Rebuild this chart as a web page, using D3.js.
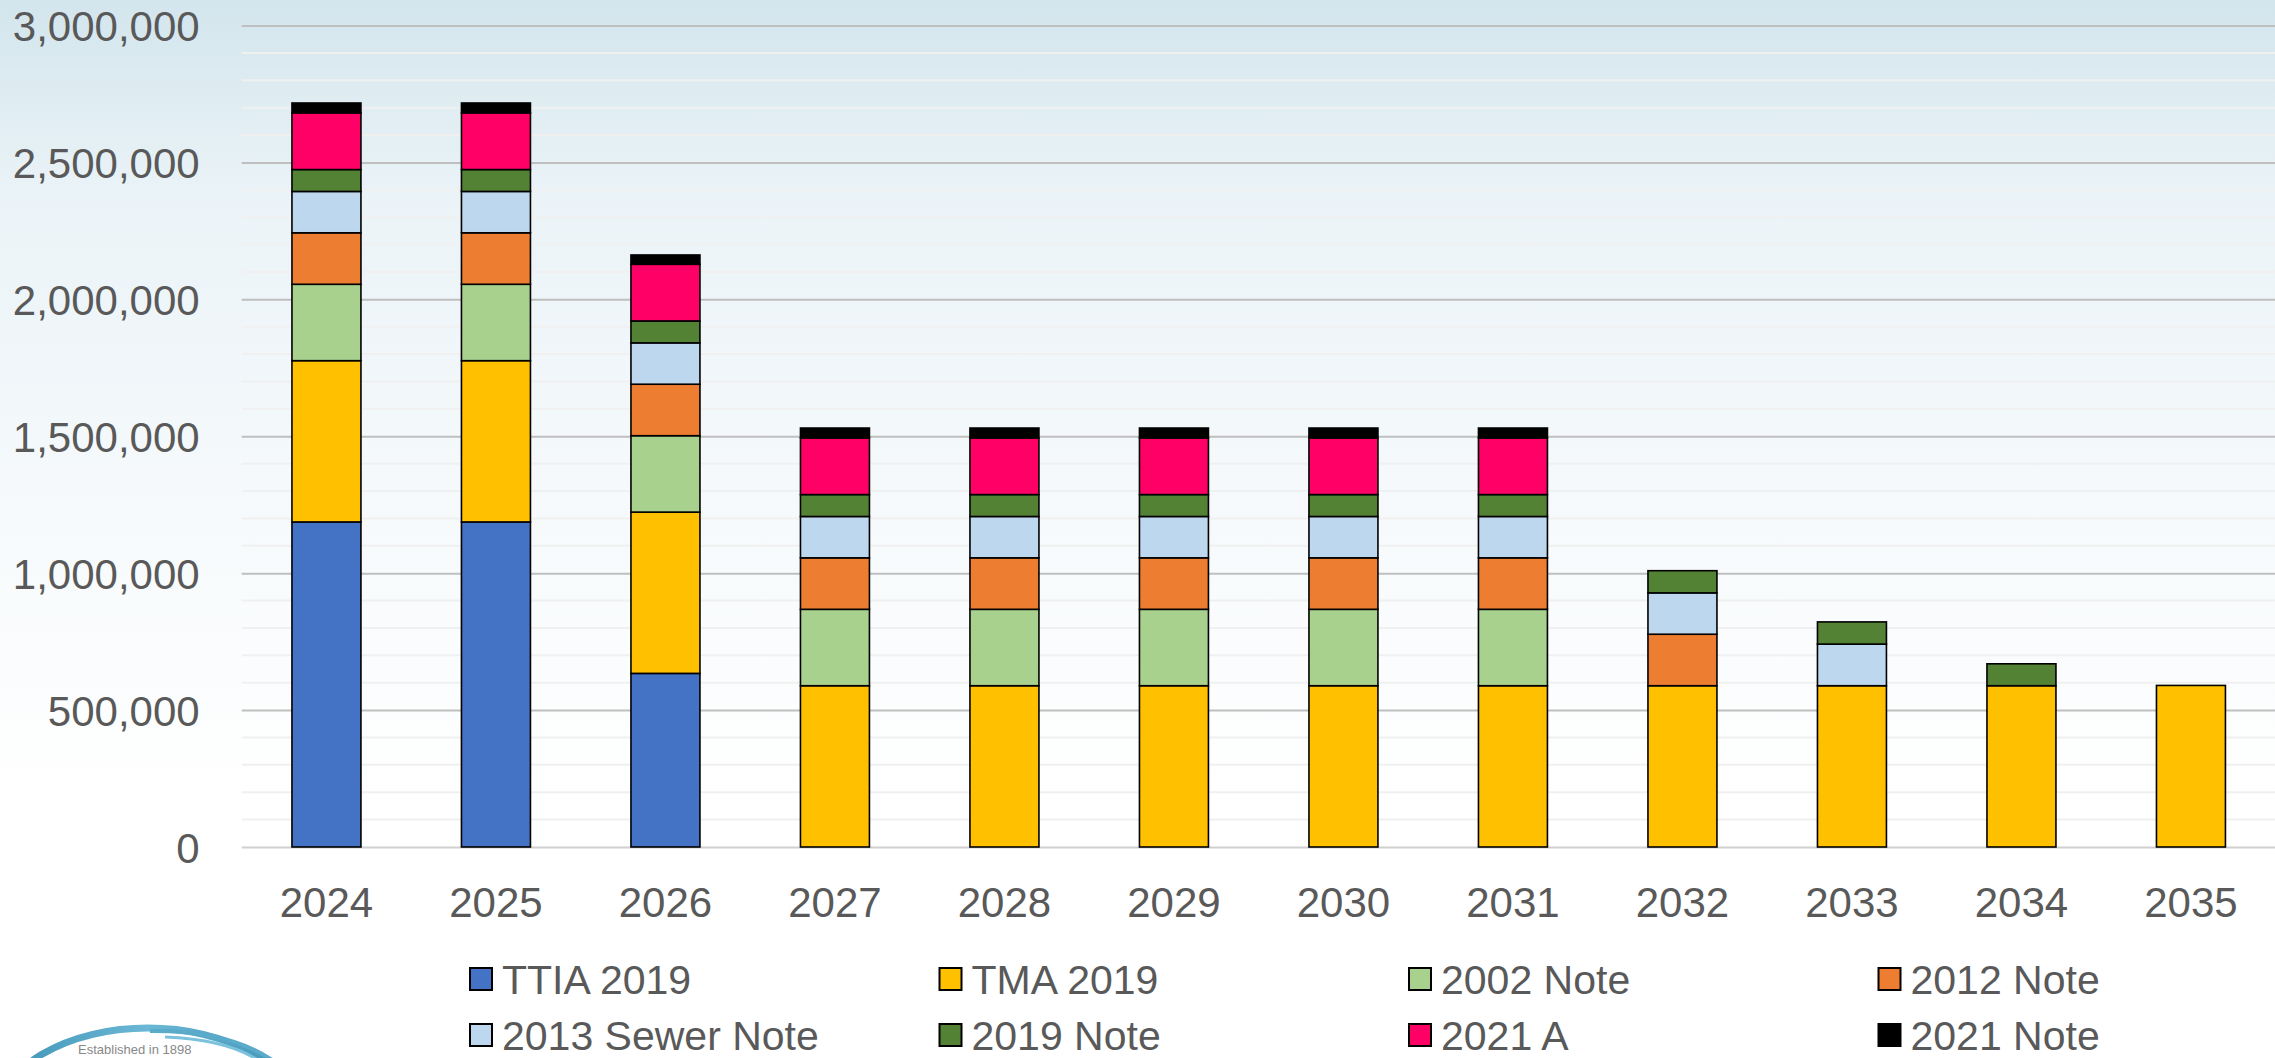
<!DOCTYPE html>
<html>
<head>
<meta charset="utf-8">
<script src="https://cdn.jsdelivr.net/npm/d3@7"></script>
<style>
  html, body { margin: 0; padding: 0; background: #fff; }
  svg { display: block; }
</style>
</head>
<body>
<svg id="chart" width="2275" height="1058"></svg>
<script>
// ---- Data ----
const years = ["2024","2025","2026","2027","2028","2029","2030","2031","2032","2033","2034","2035"];
const seriesNames = ["TTIA 2019","TMA 2019","2002 Note","2012 Note","2013 Sewer Note","2019 Note","2021 A","2021 Note"];
const ttia2019   = [1187000,1187000,634000,0,0,0,0,0,0,0,0,0];
const tma2019    = [589000,589000,589000,589000,589000,589000,589000,589000,589000,589000,589000,590000];
const note2002   = [279000,279000,279000,279000,279000,279000,279000,279000,0,0,0,0];
const note2012   = [188000,188000,188000,188000,188000,188000,188000,188000,188000,0,0,0];
const sewer2013  = [151000,151000,151000,151000,151000,151000,151000,151000,151000,152000,0,0];
const note2019   = [80000,80000,80000,80000,80000,80000,80000,80000,81000,81000,80000,0];
const a2021      = [207000,207000,207000,207000,207000,207000,207000,207000,0,0,0,0];
const note2021   = [36000,36000,34000,36000,36000,36000,36000,36000,0,0,0,0];
const yTicks     = [0,500000,1000000,1500000,2000000,2500000,3000000];
const colors     = ["#4472c4","#ffc000","#a9d18e","#ed7d31","#bdd7ee","#548235","#ff0066","#000000"];

const seriesValues = [ttia2019, tma2019, note2002, note2012, sewer2013, note2019, a2021, note2021];
const table = years.map((y, i) => {
  const row = { year: y };
  seriesNames.forEach((s, k) => row[s] = seriesValues[k][i]);
  return row;
});

const svg = d3.select("#chart");
const W = 2275, H = 1058;
const font = "'Liberation Sans', Arial, sans-serif";
const textColor = "#595959";

// Background gradient
const defs = svg.append("defs");
const grad = defs.append("linearGradient").attr("id","bg").attr("x1",0).attr("y1",0).attr("x2",0).attr("y2",1);
grad.append("stop").attr("offset","0").attr("stop-color","#d3e5ed");
grad.append("stop").attr("offset","0.18").attr("stop-color","#eaf3f7");
grad.append("stop").attr("offset","0.45").attr("stop-color","#f5f9fb");
grad.append("stop").attr("offset","0.75").attr("stop-color","#ffffff");
grad.append("stop").attr("offset","1").attr("stop-color","#ffffff");
svg.append("rect").attr("width",W).attr("height",H).attr("fill","url(#bg)");

// Scales
const plotLeft = 241.7, plotRight = 2275.7;
const x = d3.scaleBand().domain(years).range([plotLeft, plotRight]).paddingInner(0.593).paddingOuter(0.2965);
const y = d3.scaleLinear().domain([0, 3000000]).range([847, 25.5]);

// Minor gridlines
const minor = d3.range(100000, 3000000, 100000).filter(v => v % 500000 !== 0);
svg.append("g").selectAll("line").data(minor).join("line")
  .attr("x1", plotLeft).attr("x2", plotRight)
  .attr("y1", d => y(d)).attr("y2", d => y(d))
  .attr("stroke", "#f0f0f0").attr("stroke-width", 2);

// Y axis with major gridlines
const yAxis = d3.axisLeft(y).tickValues(yTicks).tickSize(-(plotRight - plotLeft)).tickPadding(42)
  .tickFormat(d3.format(","));
const gy = svg.append("g").attr("transform", `translate(${plotLeft},0)`).call(yAxis);
gy.select(".domain").remove();
gy.selectAll(".tick line").attr("stroke", d => d === 0 ? "#d0d0d0" : "#bfbfbf").attr("stroke-width", 2);
gy.selectAll(".tick text").attr("fill", textColor).attr("font-family", font).attr("font-size", 42)
  .attr("dy", "0.36em");

// Stacked bars
const stack = d3.stack().keys(seriesNames);
const stacked = stack(table);
svg.append("g").selectAll("g").data(stacked).join("g")
  .attr("fill", (d, i) => colors[i])
  .selectAll("rect").data(d => d.filter(p => p[1] - p[0] > 0)).join("rect")
  .attr("x", d => x(d.data.year))
  .attr("width", x.bandwidth())
  .attr("y", d => y(d[1]))
  .attr("height", d => y(d[0]) - y(d[1]))
  .attr("stroke", "#000").attr("stroke-width", 1.6);

// X axis labels
const xAxis = d3.axisBottom(x).tickSize(0).tickPadding(40);
const gx = svg.append("g").attr("transform", `translate(0,${y(0)})`).call(xAxis);
gx.select(".domain").remove();
gx.selectAll(".tick text").attr("fill", textColor).attr("font-family", font).attr("font-size", 42)
  .attr("dy", "0.71em");

// Legend
const legend = svg.append("g");
const colX = [469, 938.5, 1408, 1877.5];
const rowY = [979, 1035];
seriesNames.forEach((s, i) => {
  const cx = colX[i % 4], cy = rowY[Math.floor(i / 4)];
  const g = legend.append("g").attr("transform", `translate(${cx},${cy})`);
  g.append("rect").attr("x", 1).attr("y", -11).attr("width", 22).attr("height", 22)
    .attr("fill", colors[i]).attr("stroke", "#000").attr("stroke-width", 2);
  g.append("text").attr("x", 33).attr("y", 0).attr("dy", "0.36em")
    .attr("fill", textColor).attr("font-family", font).attr("font-size", 41).text(s);
});

// Partial logo at bottom-left
const logo = svg.append("g");
const lgrad = defs.append("linearGradient").attr("id","lg").attr("x1",0).attr("y1",0).attr("x2",1).attr("y2",0);
lgrad.append("stop").attr("offset","0").attr("stop-color","#3f93b5");
lgrad.append("stop").attr("offset","0.5").attr("stop-color","#6bb7d6");
lgrad.append("stop").attr("offset","1").attr("stop-color","#3f93b5");
logo.append("ellipse").attr("cx",148).attr("cy",1118).attr("rx",150).attr("ry",90)
  .attr("fill","none").attr("stroke","url(#lg)").attr("stroke-width",7);
logo.append("path").attr("d","M150,1031 Q240,1030 285,1070")
  .attr("fill","none").attr("stroke","#5aaaca").attr("stroke-width",4);
logo.append("path").attr("d","M165,1037 Q245,1040 275,1075")
  .attr("fill","none").attr("stroke","#7cc2dc").attr("stroke-width",3);
logo.append("text").attr("x",78).attr("y",1054).attr("font-family",font).attr("font-size",13)
  .attr("fill","#888").text("Established in 1898");
</script>
</body>
</html>
